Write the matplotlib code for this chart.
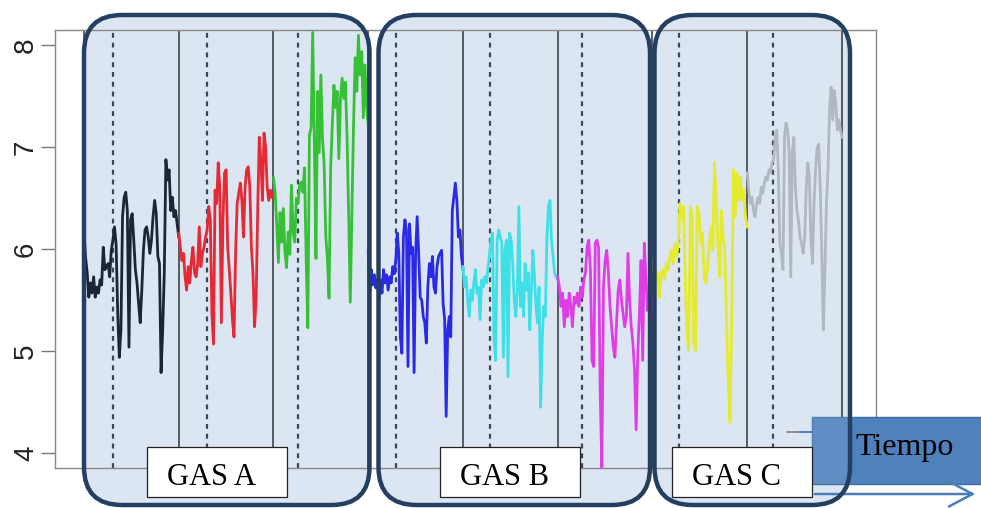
import matplotlib
matplotlib.use('Agg')
import matplotlib.pyplot as plt
import numpy as np
from matplotlib.patches import FancyBboxPatch, Rectangle, FancyArrowPatch
from matplotlib.lines import Line2D
from matplotlib.transforms import IdentityTransform

# ---------------- data ----------------
segment_names = ["A1", "A2", "A3", "B1", "B2", "B3", "C1", "C2"]
segment_colors = ["#1c2535", "#e52a35", "#35c035", "#2a2ae6",
                  "#3ee0e8", "#df3ee6", "#e4eb2c", "#b0b8c2"]
# position (fraction of each segment) of the dashed change line
change_points = [0.31, 0.295, 0.26, 0.295, 0.285, 0.26, 0.285, 0.275]

black_vals = [6.16, 5.92, 5.77, 5.53, 5.67, 5.57, 5.73, 5.53, 5.63, 5.57, 5.70, 5.65,
              6.02, 5.80, 5.83, 5.86, 5.73, 5.99, 6.09, 6.22, 6.05, 5.37, 4.94, 5.21,
              6.32, 6.51, 6.56, 6.38, 5.04, 6.29, 6.35, 6.09, 5.80, 5.67, 5.47, 5.28,
              5.60, 5.99, 6.19, 6.22, 6.12, 5.96, 6.09, 6.32, 6.48, 6.35, 5.93, 5.86,
              4.79, 5.21, 5.77, 6.88, 6.68, 6.78, 6.38, 6.51, 6.32, 6.38, 6.25, 6.12]
red_vals = [6.16, 6.02, 5.89, 5.96, 5.73, 5.60, 5.83, 5.67, 5.89, 6.02, 5.77, 5.73,
            5.86, 6.22, 5.83, 5.96, 6.02, 6.12, 6.19, 6.42, 6.29, 5.37, 5.07, 6.58,
            6.45, 6.85, 6.61, 5.28, 6.29, 6.75, 6.78, 6.02, 5.80, 5.57, 5.31, 5.14,
            5.96, 6.45, 6.55, 6.65, 6.48, 6.12, 6.61, 6.78, 6.81, 6.61, 6.02, 5.77,
            5.24, 5.50, 6.38, 7.10, 6.88, 6.48, 7.14, 7.01, 6.61, 6.48, 6.58, 6.51, 6.55]
green_vals = [6.70, 6.56, 6.24, 5.87, 6.36, 6.07, 6.40, 5.97, 5.82, 6.17, 5.95, 6.63,
              6.17, 6.07, 6.50, 6.45, 6.63, 6.66, 6.56, 6.80, 5.91, 5.23, 7.12, 7.19,
              8.13, 7.05, 5.91, 7.55, 6.95, 7.71, 7.09, 6.83, 6.14, 5.91, 5.52, 6.80,
              7.22, 7.61, 7.39, 7.55, 6.89, 7.48, 7.68, 7.48, 7.64, 7.12, 6.36, 5.48,
              6.36, 7.22, 7.88, 7.55, 8.10, 7.71, 7.94, 7.29, 7.81, 7.39, 7.22]
blue_vals = [5.99, 5.57, 5.80, 5.65, 5.75, 5.62, 5.70, 5.50, 5.70, 5.57, 5.80, 5.67,
             5.75, 5.60, 5.73, 5.67, 5.83, 5.76, 5.89, 6.16, 5.96, 5.14, 4.98, 6.12,
             6.29, 6.19, 4.85, 6.25, 5.96, 6.02, 4.79, 5.96, 6.32, 5.96, 5.53, 5.50,
             5.34, 5.28, 5.08, 5.63, 5.86, 5.73, 5.93, 5.63, 5.57, 5.83, 5.93, 5.96,
             5.99, 5.47, 5.31, 4.36, 5.21, 5.34, 5.14, 6.38, 6.51, 6.65, 6.48, 6.12,
             6.19, 5.93, 5.80]
cyan_vals = [5.83, 5.63, 5.73, 5.50, 5.34, 5.60, 5.50, 5.67, 5.80, 5.57, 5.63, 5.31,
             5.70, 5.63, 5.73, 5.67, 5.80, 5.93, 6.09, 6.16, 5.11, 4.91, 6.09, 6.19,
             6.12, 6.06, 4.94, 5.99, 6.09, 4.75, 6.16, 6.09, 5.86, 5.50, 5.34, 5.60,
             6.42, 5.44, 5.67, 5.34, 5.86, 5.60, 5.77, 5.21, 5.60, 5.99, 5.73, 5.44,
             5.28, 5.63, 4.45, 5.11, 5.44, 5.34, 6.09, 6.42, 6.48, 6.09, 5.93, 5.77,
             5.73, 5.70]
magenta_vals = [5.73, 5.63, 5.44, 5.57, 5.24, 5.50, 5.34, 5.57, 5.44, 5.24, 5.53, 5.47,
                5.57, 5.44, 5.63, 5.53, 5.70, 5.77, 6.02, 6.09, 5.80, 4.91, 4.85, 6.06,
                6.09, 6.02, 4.59, 3.86, 5.63, 5.89, 5.99, 5.77, 5.44, 5.24, 5.04, 4.94,
                5.28, 5.60, 5.70, 5.50, 5.37, 5.24, 5.34, 5.96, 5.50, 5.24, 5.08, 4.82,
                4.23, 4.98, 5.37, 5.89, 4.91, 6.06, 5.70, 5.40, 5.53, 5.31, 5.53]
yellow_vals = [5.80, 5.93, 5.67, 5.77, 5.53, 5.77, 5.80, 5.70, 5.86, 5.80, 5.93, 5.99,
               5.86, 6.06, 5.93, 6.06, 6.45, 6.32, 6.42, 5.73, 5.18, 5.01, 6.42, 6.32,
               5.08, 5.01, 6.42, 6.35, 6.06, 6.16, 5.73, 5.67, 5.83, 6.06, 6.22, 5.99,
               6.85, 6.48, 6.02, 5.73, 6.38, 6.12, 5.99, 5.28, 4.69, 4.30, 5.34, 6.78,
               6.32, 6.75, 6.48, 6.71, 6.48, 6.58, 6.32, 6.22]
gray_vals = [6.75, 6.58, 6.45, 6.51, 6.38, 6.32, 6.45, 6.51, 6.45, 6.61, 6.55, 6.65,
             6.71, 6.68, 6.78, 6.75, 6.85, 6.88, 7.10, 7.17, 6.78, 6.06, 5.96, 5.80,
             7.10, 7.24, 7.17, 6.95, 5.73, 6.95, 7.10, 6.61, 6.38, 6.28, 6.12, 6.06,
             5.96, 6.12, 6.61, 6.85, 6.71, 6.12, 5.86, 6.45, 6.78, 7.00, 7.03, 6.61,
             5.96, 5.21, 5.80, 6.45, 6.78, 7.37, 7.59, 7.27, 7.56, 7.43, 7.17, 7.27,
             7.17, 7.10]

series = [black_vals, red_vals, green_vals, blue_vals,
          cyan_vals, magenta_vals, yellow_vals, gray_vals]

y_ticks = [4, 5, 6, 7, 8]
gas_labels = ["GAS A", "GAS B", "GAS C"]
time_label = "Tiempo"

# ---------------- figure ----------------
W, H = 981, 508
fig = plt.figure(figsize=(W / 100, H / 100), dpi=100)
fig.patch.set_facecolor('white')

ax = fig.add_axes([55 / W, (H - 468) / H, (876 - 55) / W, (468 - 30) / H])
ax.set_facecolor('none')

for k, (vals, col) in enumerate(zip(series, segment_colors)):
    x = np.linspace(k, k + 1, len(vals))
    ax.plot(x, vals, color=col, lw=2.0, zorder=3)

for k in range(len(series) + 1):
    ax.axvline(k, color='#4a4f57', lw=1.3, zorder=2)
for k, cp in enumerate(change_points):
    ax.axvline(k + cp, color='#3d4652', lw=1.6, ls=(0, (2.2, 2.2)), zorder=2)

ax.set_xlim(-0.306, 8.359)
ax.set_ylim(3.854, 8.152)
ax.set_xticks([])
ax.set_yticks(y_ticks)
ax.set_yticklabels([str(t) for t in y_ticks], rotation=90, va='center',
                   fontsize=20, family='Liberation Sans', color='#222222')
ax.tick_params(axis='y', length=10, width=1, color='#777777', pad=1.5)
for s in ax.spines.values():
    s.set_color('#888888')
    s.set_linewidth(1.0)

ident = IdentityTransform()

def rect_disp(x0, y0, x1, y1):
    # pixel box (top-left origin) -> display coords
    return x0, H - y1, x1 - x0, y1 - y0

# rounded group boxes
group_boxes = [(84, 15, 369.5, 505), (378.5, 15, 650, 505), (654.5, 15, 850, 505)]
fills = []
for (x0, y0, x1, y1) in group_boxes:
    bx, by, bw, bh = rect_disp(x0, y0, x1, y1)
    f = FancyBboxPatch((bx, by), bw, bh, boxstyle="round,pad=0,rounding_size=38",
                       transform=ident, facecolor='#dce6f2', edgecolor='none', zorder=-1)
    fig.add_artist(f)
    fills.append((bx, by, bw, bh))

# Tiempo box
tx, ty, tw, th = rect_disp(812, 417, 985, 484)
trect = Rectangle((tx, ty), tw, th, transform=ident, facecolor='#4f81bd',
                  edgecolor='#3d6fa8', lw=1.0, zorder=1.5)
fig.add_artist(trect)
bx, by, bw, bh = fills[2]
overlay = FancyBboxPatch((bx, by), bw, bh, boxstyle="round,pad=0,rounding_size=38",
                         transform=ident, facecolor='white', alpha=0.1,
                         edgecolor='none', zorder=1.6)
fig.add_artist(overlay)
overlay.set_clip_path(trect)

# small stub lines near Tiempo box
fig.add_artist(Line2D([787, 800], [H - 432, H - 432], transform=ident,
                      color='#808080', lw=1.2, zorder=1.4))
fig.add_artist(Line2D([800, 812], [H - 432, H - 432], transform=ident,
                      color='#4a7ebb', lw=1.4, zorder=1.4))

# time arrow
arr = FancyArrowPatch((812, H - 494), (978, H - 494), transform=ident,
                      arrowstyle='->,head_length=0.85,head_width=0.45',
                      mutation_scale=20, color='#4a7ebb', lw=1.8, zorder=1.5)
fig.add_artist(arr)

# box borders
for (bx, by, bw, bh) in fills:
    b = FancyBboxPatch((bx, by), bw, bh, boxstyle="round,pad=0,rounding_size=38",
                       transform=ident, facecolor='none', edgecolor='#243f60',
                       lw=3.2, zorder=2)
    fig.add_artist(b)

# label boxes
label_lefts = [147, 440, 672]
for left, lab in zip(label_lefts, gas_labels):
    lx, ly, lw_, lh = rect_disp(left, 447, left + 140, 497)
    fig.add_artist(Rectangle((lx, ly), lw_, lh, transform=ident, facecolor='white',
                             edgecolor='#222222', lw=0.9, zorder=3))
    fig.text(left + 20, H - 485, lab, transform=ident, ha='left', va='baseline',
             fontsize=22, family='Liberation Serif', color='black', zorder=4)

fig.text(905, H - 455, time_label, transform=ident, ha='center', va='baseline',
         fontsize=23, family='Liberation Serif', color='black', zorder=4)

fig.savefig('out.png', dpi=100)
